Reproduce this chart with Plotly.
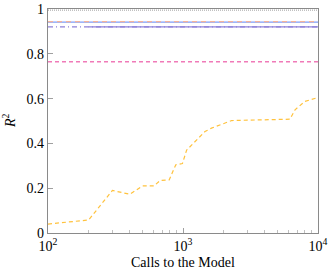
import plotly.graph_objects as go

# Data
calls = [100, 200, 300, 404, 500, 610, 675, 790, 885, 990, 1064, 1455, 1625, 2290, 6200, 6760, 7980, 9500, 10000]
r2_curve = [0.04, 0.058, 0.19, 0.173, 0.21, 0.21, 0.234, 0.237, 0.305, 0.31, 0.37, 0.453, 0.468, 0.502, 0.508, 0.55, 0.587, 0.603, 0.605]

ref_x = [100, 10000]
ref_gray = 0.995
ref_blue = 0.941
ref_orange = 0.944
ref_purple_dashdot = 0.920
ref_purple_solid_x = [200, 10000]
ref_purple_solid = 0.920
ref_pink = 0.764

x_tickvals = [100, 1000, 10000]
x_ticktext = ["10<sup>2</sup>", "10<sup>3</sup>", "10<sup>4</sup>"]
x_minor = [200, 300, 400, 500, 600, 700, 800, 900, 2000, 3000, 4000, 5000, 6000, 7000, 8000, 9000]
y_tickvals = [0, 0.2, 0.4, 0.6, 0.8, 1]
y_ticktext = ["0", "0.2", "0.4", "0.6", "0.8", "1"]

font_family = "Liberation Serif"

fig = go.Figure()

fig.add_trace(go.Scatter(x=ref_x, y=[ref_gray]*2, mode="lines",
                         line=dict(color="#9a9a9a", width=1, dash="1px,1px")))
fig.add_trace(go.Scatter(x=ref_x, y=[ref_blue]*2, mode="lines",
                         line=dict(color="#7f9cf5", width=1.2)))
fig.add_trace(go.Scatter(x=ref_x, y=[ref_orange]*2, mode="lines",
                         line=dict(color="#f5b49a", width=1.2, dash="5px,4px")))
fig.add_trace(go.Scatter(x=ref_x, y=[ref_purple_dashdot]*2, mode="lines",
                         line=dict(color="#8d80d8", width=1.2, dash="5px,3px,1px,3px")))
fig.add_trace(go.Scatter(x=ref_purple_solid_x, y=[ref_purple_solid]*2, mode="lines",
                         line=dict(color="#8d80d8", width=1.2)))
fig.add_trace(go.Scatter(x=ref_x, y=[ref_pink]*2, mode="lines",
                         line=dict(color="#f07ab8", width=1.5, dash="4px,3px")))
fig.add_trace(go.Scatter(x=calls, y=r2_curve, mode="lines",
                         line=dict(color="#ffc23d", width=1.2, dash="4px,3px")))

fig.update_layout(
    width=333, height=273,
    margin=dict(l=48, r=15, t=9, b=40),
    plot_bgcolor="white", paper_bgcolor="white",
    showlegend=False,
    font=dict(family=font_family, size=14, color="black"),
    annotations=[
        dict(text="Calls to the Model", xref="paper", yref="paper", x=0.5, y=0,
             yshift=-20, xanchor="center", yanchor="top", showarrow=False,
             font=dict(size=14)),
        dict(text="<i>R</i><sup>2</sup>", xref="paper", yref="paper", x=0, y=0.5,
             xshift=-28, xanchor="right", yanchor="middle", textangle=-90,
             showarrow=False, font=dict(size=14)),
    ],
)
fig.update_xaxes(
    type="log", range=[2, 4],
    tickvals=x_tickvals, ticktext=x_ticktext,
    ticks="inside", ticklen=5, tickcolor="#a0a0a0",
    minor=dict(tickvals=x_minor, ticks="inside", ticklen=3, tickcolor="#c0c0c0", showgrid=False),
    showline=True, linecolor="#8a8a8a", linewidth=1.2, mirror=True,
    showgrid=False, zeroline=False, automargin=False,
    tickfont=dict(size=14),
)
fig.update_yaxes(
    range=[0, 1],
    tickvals=y_tickvals, ticktext=y_ticktext,
    ticks="inside", ticklen=5, tickcolor="#a0a0a0",
    showline=True, linecolor="#8a8a8a", linewidth=1.2, mirror=True,
    showgrid=False, zeroline=False, automargin=False,
    tickfont=dict(size=14),
)

fig.write_html("out.html", config={"displayModeBar": False},
               post_script="document.body.style.margin='0';document.body.style.overflow='hidden';")
